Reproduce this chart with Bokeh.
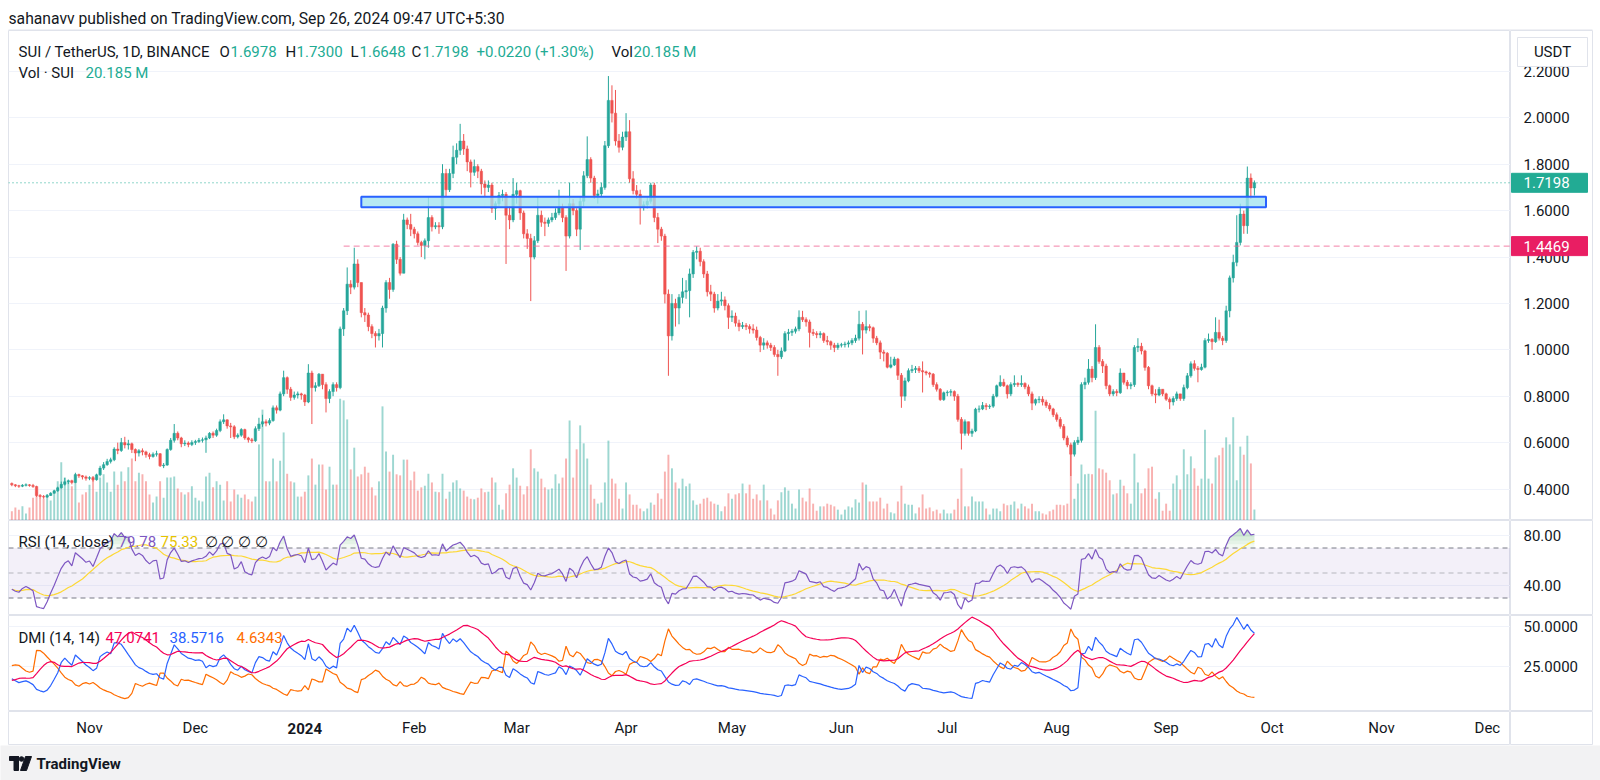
import numpy as np
import pandas as pd
from bokeh.plotting import figure
from bokeh.layouts import column, row
from bokeh.models import (ColumnDataSource, Range1d, FixedTicker, Grid,
                          Label, Span, BoxAnnotation)
from bokeh.core.properties import value
from bokeh.embed import file_html
from bokeh.resources import INLINE

# ---------------------------------------------------------------- data
START_DATE = "2023-10-10"
FIRST_OPEN = 0.424

close = [
    0.418, 0.414, 0.412, 0.416, 0.418, 0.415, 0.411, 0.372, 0.368, 0.365,
    0.372, 0.382, 0.392, 0.405, 0.420, 0.431, 0.436, 0.428, 0.462, 0.457,
    0.452, 0.446, 0.449, 0.440, 0.461, 0.490, 0.505, 0.519, 0.526, 0.572,
    0.566, 0.600, 0.590, 0.595, 0.570, 0.555, 0.565, 0.560, 0.548, 0.540,
    0.550, 0.552, 0.500, 0.503, 0.570, 0.610, 0.640, 0.620, 0.595, 0.598,
    0.592, 0.600, 0.605, 0.610, 0.612, 0.620, 0.640, 0.632, 0.652, 0.690,
    0.698, 0.672, 0.668, 0.625, 0.632, 0.656, 0.620, 0.612, 0.608, 0.660,
    0.680, 0.690, 0.684, 0.695, 0.750, 0.740, 0.810, 0.880, 0.830, 0.795,
    0.805, 0.810, 0.805, 0.775, 0.900, 0.837, 0.845, 0.895, 0.850, 0.790,
    0.820, 0.850, 0.837, 1.090, 1.168, 1.283, 1.270, 1.370, 1.290, 1.160,
    1.150, 1.100, 1.070, 1.060, 1.070, 1.180, 1.290, 1.260, 1.455, 1.390,
    1.330, 1.560, 1.540, 1.520, 1.500, 1.463, 1.450, 1.470, 1.570, 1.530,
    1.535, 1.530, 1.760, 1.690, 1.760, 1.830, 1.860, 1.900, 1.866, 1.810,
    1.765, 1.790, 1.770, 1.715, 1.700, 1.710, 1.610, 1.630, 1.665, 1.670,
    1.580, 1.560, 1.670, 1.686, 1.590, 1.500, 1.480, 1.400, 1.470, 1.580,
    1.550, 1.545, 1.560, 1.570, 1.590, 1.615, 1.570, 1.490, 1.630, 1.600,
    1.520, 1.640, 1.750, 1.820, 1.740, 1.665, 1.672, 1.700, 1.880, 2.075,
    2.020, 1.900, 1.873, 1.917, 1.940, 1.737, 1.686, 1.670, 1.615, 1.625,
    1.640, 1.710, 1.570, 1.520, 1.490, 1.240, 1.060, 1.200, 1.180, 1.226,
    1.250, 1.255, 1.327, 1.420, 1.425, 1.380, 1.327, 1.250, 1.240, 1.180,
    1.210, 1.215, 1.190, 1.140, 1.145, 1.115, 1.100, 1.105, 1.100, 1.090,
    1.085, 1.053, 1.020, 1.030, 1.020, 1.010, 0.980, 0.970, 0.995, 1.070,
    1.075, 1.080, 1.090, 1.140, 1.130, 1.120, 1.075, 1.070, 1.065, 1.070,
    1.040, 1.035, 1.020, 1.010, 1.020, 1.022, 1.025, 1.030, 1.040, 1.050,
    1.110, 1.085, 1.100, 1.095, 1.050, 1.030, 0.990, 0.985, 0.925, 0.935,
    0.960, 0.890, 0.800, 0.866, 0.910, 0.915, 0.920, 0.910, 0.905, 0.900,
    0.895, 0.850, 0.830, 0.785, 0.815, 0.817, 0.820, 0.800, 0.700, 0.640,
    0.690, 0.640, 0.650, 0.744, 0.745, 0.760, 0.755, 0.757, 0.800, 0.845,
    0.860, 0.845, 0.810, 0.850, 0.855, 0.850, 0.855, 0.840, 0.810, 0.770,
    0.785, 0.787, 0.775, 0.760, 0.745, 0.720, 0.700, 0.670, 0.620, 0.590,
    0.550, 0.600, 0.610, 0.850, 0.860, 0.917, 0.880, 1.010, 0.950, 0.930,
    0.845, 0.810, 0.820, 0.815, 0.900, 0.860, 0.845, 0.850, 1.010, 1.015,
    0.995, 0.924, 0.845, 0.810, 0.805, 0.830, 0.810, 0.787, 0.775, 0.790,
    0.810, 0.790, 0.837, 0.888, 0.940, 0.920, 0.915, 0.925, 1.040, 1.045,
    1.035, 1.075, 1.050, 1.040, 1.168, 1.310, 1.377, 1.463, 1.585, 1.535,
    1.740, 1.6978, 1.7198,
]

high = [
    0.428, 0.421, 0.418, 0.421, 0.424, 0.421, 0.422, 0.414, 0.378, 0.374,
    0.378, 0.386, 0.397, 0.410, 0.432, 0.448, 0.441, 0.440, 0.470, 0.466,
    0.460, 0.458, 0.455, 0.455, 0.466, 0.500, 0.516, 0.530, 0.535, 0.580,
    0.600, 0.620, 0.625, 0.612, 0.600, 0.575, 0.572, 0.575, 0.565, 0.556,
    0.558, 0.565, 0.555, 0.512, 0.575, 0.620, 0.680, 0.648, 0.625, 0.610,
    0.605, 0.610, 0.612, 0.620, 0.622, 0.630, 0.645, 0.648, 0.660, 0.700,
    0.722, 0.700, 0.685, 0.675, 0.640, 0.662, 0.660, 0.625, 0.620, 0.670,
    0.707, 0.720, 0.700, 0.705, 0.760, 0.760, 0.820, 0.910, 0.885, 0.840,
    0.820, 0.820, 0.815, 0.810, 0.938, 0.910, 0.860, 0.900, 0.895, 0.860,
    0.830, 0.860, 0.860, 1.100, 1.180, 1.355, 1.300, 1.440, 1.390, 1.290,
    1.180, 1.160, 1.110, 1.080, 1.090, 1.190, 1.300, 1.310, 1.460, 1.470,
    1.400, 1.586, 1.570, 1.586, 1.530, 1.510, 1.470, 1.480, 1.660, 1.580,
    1.550, 1.550, 1.800, 1.780, 1.780, 1.880, 1.890, 1.974, 1.930, 1.880,
    1.820, 1.820, 1.800, 1.780, 1.730, 1.730, 1.720, 1.640, 1.680, 1.690,
    1.680, 1.620, 1.740, 1.720, 1.690, 1.600, 1.520, 1.500, 1.490, 1.660,
    1.600, 1.570, 1.570, 1.590, 1.610, 1.690, 1.630, 1.580, 1.720, 1.650,
    1.610, 1.660, 1.770, 1.920, 1.830, 1.750, 1.690, 1.720, 1.900, 2.180,
    2.140, 2.120, 1.930, 1.940, 2.020, 1.990, 1.770, 1.710, 1.690, 1.640,
    1.660, 1.720, 1.720, 1.590, 1.530, 1.500, 1.260, 1.240, 1.220, 1.240,
    1.310, 1.300, 1.350, 1.430, 1.446, 1.440, 1.390, 1.340, 1.280, 1.250,
    1.240, 1.250, 1.230, 1.200, 1.170, 1.160, 1.130, 1.120, 1.115, 1.110,
    1.110, 1.100, 1.060, 1.050, 1.040, 1.030, 1.020, 1.000, 1.010, 1.080,
    1.090, 1.090, 1.100, 1.170, 1.168, 1.140, 1.130, 1.090, 1.080, 1.080,
    1.075, 1.060, 1.040, 1.030, 1.030, 1.030, 1.035, 1.040, 1.050, 1.065,
    1.168, 1.120, 1.170, 1.110, 1.100, 1.060, 1.040, 1.000, 0.990, 0.970,
    0.970, 0.965, 0.900, 0.880, 0.920, 0.935, 0.930, 0.930, 0.950, 0.910,
    0.905, 0.900, 0.860, 0.835, 0.820, 0.825, 0.830, 0.825, 0.810, 0.710,
    0.700, 0.690, 0.660, 0.750, 0.760, 0.775, 0.770, 0.765, 0.810, 0.850,
    0.890, 0.875, 0.850, 0.860, 0.890, 0.860, 0.890, 0.860, 0.850, 0.820,
    0.790, 0.800, 0.800, 0.785, 0.770, 0.750, 0.730, 0.710, 0.680, 0.630,
    0.600, 0.610, 0.625, 0.860, 0.880, 0.960, 0.930, 1.110, 1.020, 0.960,
    0.940, 0.850, 0.830, 0.830, 0.920, 0.900, 0.870, 0.860, 1.020, 1.050,
    1.030, 1.000, 0.930, 0.850, 0.830, 0.840, 0.830, 0.815, 0.795, 0.800,
    0.820, 0.810, 0.850, 0.900, 0.950, 0.955, 0.930, 0.940, 1.050, 1.070,
    1.050, 1.140, 1.130, 1.060, 1.190, 1.320, 1.410, 1.580, 1.630, 1.600,
    1.790, 1.760, 1.7300,
]

low = [
    0.412, 0.408, 0.405, 0.408, 0.411, 0.410, 0.405, 0.366, 0.360, 0.358,
    0.362, 0.370, 0.380, 0.388, 0.402, 0.415, 0.421, 0.420, 0.425, 0.448,
    0.441, 0.436, 0.438, 0.432, 0.436, 0.455, 0.482, 0.500, 0.510, 0.520,
    0.550, 0.560, 0.575, 0.570, 0.555, 0.520, 0.540, 0.545, 0.535, 0.528,
    0.535, 0.540, 0.495, 0.490, 0.500, 0.565, 0.600, 0.610, 0.580, 0.585,
    0.580, 0.585, 0.590, 0.598, 0.600, 0.556, 0.615, 0.620, 0.625, 0.645,
    0.680, 0.660, 0.620, 0.615, 0.618, 0.625, 0.612, 0.600, 0.598, 0.603,
    0.650, 0.668, 0.670, 0.675, 0.690, 0.725, 0.735, 0.800, 0.810, 0.780,
    0.785, 0.790, 0.785, 0.758, 0.770, 0.680, 0.820, 0.840, 0.830, 0.730,
    0.770, 0.800, 0.820, 0.830, 1.060, 1.150, 1.240, 1.260, 1.270, 1.140,
    1.120, 1.080, 1.050, 1.010, 1.040, 1.010, 1.160, 1.220, 1.250, 1.370,
    1.320, 1.330, 1.520, 1.490, 1.480, 1.450, 1.400, 1.390, 1.440, 1.510,
    1.520, 1.500, 1.520, 1.660, 1.680, 1.740, 1.800, 1.840, 1.840, 1.770,
    1.700, 1.750, 1.740, 1.670, 1.660, 1.680, 1.590, 1.560, 1.620, 1.640,
    1.370, 1.520, 1.550, 1.630, 1.560, 1.480, 1.435, 1.210, 1.390, 1.460,
    1.530, 1.490, 1.530, 1.550, 1.560, 1.580, 1.550, 1.340, 1.480, 1.580,
    1.490, 1.430, 1.620, 1.740, 1.720, 1.650, 1.630, 1.660, 1.690, 1.870,
    1.980, 1.880, 1.850, 1.860, 1.900, 1.720, 1.670, 1.650, 1.540, 1.600,
    1.610, 1.630, 1.550, 1.460, 1.470, 1.200, 0.888, 1.040, 1.100, 1.110,
    1.200, 1.220, 1.140, 1.310, 1.390, 1.360, 1.310, 1.230, 1.210, 1.160,
    1.170, 1.190, 1.170, 1.090, 1.120, 1.100, 1.080, 1.090, 1.085, 1.070,
    1.070, 1.040, 0.990, 1.000, 1.005, 0.995, 0.970, 0.888, 0.960, 0.990,
    1.040, 1.060, 1.070, 1.080, 1.120, 1.100, 1.010, 1.060, 1.050, 1.050,
    1.030, 1.020, 1.000, 0.990, 1.000, 1.010, 1.010, 1.010, 1.020, 1.030,
    1.040, 0.980, 1.070, 1.080, 1.030, 1.020, 0.960, 0.950, 0.920, 0.920,
    0.930, 0.870, 0.750, 0.780, 0.860, 0.900, 0.900, 0.900, 0.816, 0.890,
    0.880, 0.840, 0.820, 0.780, 0.780, 0.800, 0.800, 0.780, 0.690, 0.570,
    0.630, 0.630, 0.625, 0.645, 0.730, 0.740, 0.740, 0.745, 0.750, 0.795,
    0.840, 0.840, 0.790, 0.800, 0.840, 0.840, 0.840, 0.830, 0.800, 0.740,
    0.760, 0.770, 0.760, 0.750, 0.735, 0.710, 0.690, 0.660, 0.610, 0.580,
    0.456, 0.540, 0.590, 0.600, 0.830, 0.850, 0.860, 0.870, 0.940, 0.900,
    0.830, 0.800, 0.800, 0.800, 0.810, 0.850, 0.830, 0.830, 0.840, 0.990,
    0.980, 0.910, 0.830, 0.800, 0.770, 0.800, 0.800, 0.780, 0.744, 0.760,
    0.780, 0.780, 0.780, 0.830, 0.880, 0.910, 0.860, 0.910, 0.920, 1.030,
    1.000, 1.030, 1.040, 1.020, 1.030, 1.140, 1.290, 1.360, 1.450, 1.500,
    1.500, 1.650, 1.6648,
]

volume_m = [
    17, 24, 20, 26, 13, 24, 42, 53, 42, 40,
    48, 37, 55, 72, 107, 79, 72, 63, 70, 33,
    48, 52, 66, 81, 53, 79, 85, 70, 53, 90,
    66, 90, 72, 98, 114, 72, 88, 85, 72, 48,
    33, 44, 72, 42, 79, 79, 81, 59, 52, 48,
    52, 63, 42, 37, 35, 81, 88, 61, 72, 66,
    37, 72, 35, 57, 48, 42, 48, 39, 35, 44,
    140, 204, 72, 72, 114, 72, 110, 162, 86, 72,
    70, 44, 44, 53, 83, 114, 66, 103, 103, 57,
    99, 66, 66, 224, 221, 186, 94, 134, 81, 85,
    99, 88, 61, 46, 72, 210, 127, 90, 121, 85,
    83, 112, 112, 74, 90, 55, 61, 64, 86, 70,
    53, 52, 86, 40, 53, 70, 74, 59, 55, 44,
    40, 39, 42, 59, 52, 53, 79, 70, 29, 20,
    50, 66, 96, 79, 64, 48, 63, 131, 96, 90,
    77, 61, 57, 59, 85, 68, 79, 114, 184, 79,
    131, 175, 142, 114, 66, 40, 31, 33, 70, 147,
    77, 68, 40, 22, 70, 48, 29, 29, 22, 17,
    22, 33, 29, 50, 40, 90, 121, 96, 70, 59,
    77, 63, 68, 37, 29, 31, 40, 42, 35, 31,
    29, 17, 26, 50, 40, 48, 50, 68, 50, 66,
    40, 48, 37, 66, 37, 22, 11, 37, 52, 61,
    55, 31, 22, 57, 42, 35, 59, 31, 18, 26,
    26, 31, 29, 26, 20, 11, 20, 26, 24, 39,
    33, 70, 66, 35, 35, 35, 42, 22, 31, 15,
    13, 35, 64, 31, 29, 29, 13, 24, 48, 22,
    24, 17, 20, 13, 20, 13, 13, 20, 40, 96,
    26, 26, 44, 35, 35, 35, 22, 11, 22, 22,
    17, 31, 28, 29, 35, 22, 31, 26, 22, 31,
    17, 17, 13, 11, 17, 20, 29, 29, 28, 31,
    136, 40, 68, 103, 85, 86, 85, 202, 96, 94,
    88, 74, 48, 50, 75, 64, 50, 31, 123, 70,
    50, 59, 96, 99, 40, 52, 18, 31, 18, 68,
    83, 57, 131, 85, 118, 96, 64, 77, 167, 77,
    68, 116, 120, 134, 153, 140, 190, 74, 136, 121,
    156, 105, 20.185,
]

# indicator readings at the chart's left edge (used to seed the smoothing)
RSI_LEFT = 37.0
PDI_LEFT, MDI_LEFT, ADX_LEFT = 17.3, 25.6, 16.3

# drawn levels
LAST_PRICE = 1.7198
RED_LEVEL = 1.4469
ZONE_BOTTOM, ZONE_TOP = 1.614, 1.660
ZONE_FROM, ZONE_TO = "2024-01-17", "2024-09-29 07:00"
RED_FROM = "2024-01-12"

price_ticks = [0.4, 0.6, 0.8, 1.0, 1.2, 1.4, 1.6, 1.8, 2.0, 2.2]
rsi_ticks = [40, 80]
dmi_ticks = [25, 50]
month_dates = ["2023-11-01", "2023-12-01", "2024-01-01", "2024-02-01", "2024-03-01",
               "2024-04-01", "2024-05-01", "2024-06-01", "2024-07-01", "2024-08-01",
               "2024-09-01", "2024-10-01", "2024-11-01", "2024-12-01"]
month_labels = ["Nov", "Dec", "2024", "Feb", "Mar", "Apr", "May", "Jun", "Jul",
                "Aug", "Sep", "Oct", "Nov", "Dec"]

HEADER = "sahanavv published on TradingView.com, Sep 26, 2024 09:47 UTC+5:30"

# ---------------------------------------------------------------- geometry (page pixels)
FONT = "Roboto"
FS = "15px"
DARK = "#131722"
TEAL = "#22ab94"
UP, DOWN = "#26a69a", "#ef5350"
BORDER = "#e0e3eb"
GRID = "#f0f3fa"
CHART_W = 1510          # page x 0..1510 (frame 8..1510)
AX_W = 90               # page x 1510..1600 (frame 1510..1592)
ORIGIN = pd.Timestamp("2023-11-01")
ORIGIN_PX, PX_PER_DAY = 89.0, 3.53

def day_at(px):
    return (px - ORIGIN_PX) / PX_PER_DAY

def dnum(s):
    return (pd.Timestamp(s) - ORIGIN) / pd.Timedelta(days=1)

P_TOP, P_SCALE = 2.3763, 232.0          # price pane: page y 30..520
def price_at(py):
    return P_TOP - (py - 30) / P_SCALE
R_TOP, R_SCALE = 92.0, 1.25             # rsi pane: page y 520..615
def rsi_at(py):
    return R_TOP - (py - 520) / R_SCALE
D_TOP, D_SCALE = 56.875, 1.6            # dmi pane: page y 615..711
def dmi_at(py):
    return D_TOP - (py - 615) / D_SCALE

# ---------------------------------------------------------------- series
n = min(len(close), len(high), len(low), len(volume_m))
c = np.array(close[:n], dtype=float)
o = np.r_[FIRST_OPEN, c[:-1]]
h = np.maximum(np.array(high[:n], dtype=float), np.maximum(o, c))
l = np.minimum(np.array(low[:n], dtype=float), np.minimum(o, c))
v = np.array(volume_m[:n], dtype=float)
dates = pd.date_range(START_DATE, periods=n, freq="D")
x = np.asarray((dates - ORIGIN) / pd.Timedelta(days=1), dtype=float)
col = np.where(c >= o, UP, DOWN)


def rma(vals, start):
    out = np.empty(len(vals))
    s = start
    for i, val in enumerate(vals):
        s = s + (val - s) / 14.0
        out[i] = s
    return out

# RSI(14) + SMA(14)
delta = np.diff(c)
g0 = 0.0025
ag = rma(np.maximum(delta, 0), g0)
al = rma(np.maximum(-delta, 0), g0 * (100 - RSI_LEFT) / RSI_LEFT)
rsi = np.r_[RSI_LEFT, 100 - 100 / (1 + ag / al)]
rsi_ma = pd.Series(rsi).rolling(14, min_periods=1).mean().values

# DMI(14,14)
upm = h[1:] - h[:-1]
dnm = l[:-1] - l[1:]
pdm = np.where((upm > dnm) & (upm > 0), upm, 0.0)
mdm = np.where((dnm > upm) & (dnm > 0), dnm, 0.0)
tr = np.maximum.reduce([h[1:] - l[1:], np.abs(h[1:] - c[:-1]), np.abs(l[1:] - c[:-1])])
ATR0 = 0.013
atr = rma(tr, ATR0)
pdi = np.r_[PDI_LEFT, 100 * rma(pdm, ATR0 * PDI_LEFT / 100) / atr]
mdi = np.r_[MDI_LEFT, 100 * rma(mdm, ATR0 * MDI_LEFT / 100) / atr]
dx = 100 * np.abs(pdi - mdi) / (pdi + mdi)
adx = np.r_[ADX_LEFT, rma(dx[1:], ADX_LEFT)]

src = ColumnDataSource(dict(x=x, o=o, h=h, l=l, c=c, v=v, col=col,
                            top=np.maximum(o, c), bot=np.minimum(o, c),
                            rsi=rsi, rsi_ma=rsi_ma,
                            adx=adx, pdi=pdi, mdi=mdi))
# stepped overbought fill (fades toward the 70 level)
OB_STEPS = [70, 73, 76, 79, 82, 85]
for t in OB_STEPS:
    src.data[f"ob{t}"] = np.maximum(rsi, t)

xr = Range1d(day_at(8), day_at(1510))


def chart(height, y_range, ticks=None):
    f = figure(width=CHART_W, height=height, x_range=xr, y_range=y_range,
               x_axis_location=None, y_axis_location=None, toolbar_location=None,
               output_backend="svg", min_border_left=8, min_border_right=0,
               min_border_top=0, min_border_bottom=0)
    f.outline_line_color = BORDER
    f.background_fill_color = "white"
    f.border_fill_color = "white"
    f.grid.visible = False
    if ticks:
        f.add_layout(Grid(dimension=1, ticker=FixedTicker(ticks=ticks),
                          grid_line_color=GRID, grid_line_width=1))
    return f


def scale_col(height, y_range, ticks=None, fmt=None):
    a = figure(width=AX_W, height=height, x_range=Range1d(0, 82), y_range=y_range,
               x_axis_location=None, y_axis_location=None, toolbar_location=None,
               output_backend="svg", min_border_left=0, min_border_right=8,
               min_border_top=0, min_border_bottom=0)
    a.outline_line_color = BORDER
    a.background_fill_color = "white"
    a.border_fill_color = "white"
    a.grid.visible = False
    if ticks:
        a.text(x=[13] * len(ticks), y=ticks, text=[fmt % t for t in ticks],
               text_font=value(FONT), text_font_size=FS, text_color=DARK,
               text_baseline="middle", text_align="left")
    return a


def lab(f, px, y, text, color=DARK, size=FS, bold=False):
    f.add_layout(Label(x=day_at(px), y=y, text=text, text_color=color, text_font=FONT,
                       text_font_size=size, text_align="left", text_baseline="middle",
                       text_font_style="bold" if bold else "normal"))

# ---------------------------------------------------------------- header (page y 0..30)
head = figure(width=1600, height=30, x_range=(0, 1600), y_range=(0, 30),
              x_axis_location=None, y_axis_location=None, toolbar_location=None,
              output_backend="svg", min_border=0)
head.outline_line_color = None
head.grid.visible = False
head.text(x=[8], y=[12], text=[HEADER], text_font=value(FONT), text_font_size="15.7px",
          text_color=DARK, text_baseline="middle")
head.segment(x0=[8], y0=[0.5], x1=[1592], y1=[0.5], line_color=BORDER, line_width=1)

# ---------------------------------------------------------------- price pane
p_range = Range1d(P_TOP - 490 / P_SCALE, P_TOP)
pp = chart(490, p_range, price_ticks)
pp.extra_y_ranges = {"vol": Range1d(0, 490 * 1.84)}
pp.vbar(x="x", width=0.55, top="v", bottom=0, source=src, y_range_name="vol",
        fill_color="col", line_color=None, fill_alpha=0.45)
pp.segment(x0="x", y0="l", x1="x", y1="h", source=src, line_color="col", line_width=1)
pp.vbar(x="x", width=0.7, top="top", bottom="bot", source=src,
        fill_color="col", line_color="col", line_width=0.5)
pp.quad(left=[dnum(ZONE_FROM)], right=[dnum(ZONE_TO)], bottom=[ZONE_BOTTOM], top=[ZONE_TOP],
        fill_color="#a5e4f0", fill_alpha=0.8, line_color="#2962ff", line_width=2)
pp.segment(x0=[dnum(RED_FROM)], y0=[RED_LEVEL], x1=[day_at(1512)], y1=[RED_LEVEL],
           line_color="#f06292", line_width=1, line_dash="6 4", line_alpha=0.8)
pp.add_layout(Span(location=LAST_PRICE, dimension="width", line_color=TEAL,
                   line_dash="1 3", line_width=1))

ly1, ly2 = price_at(51), price_at(72)
lab(pp, 18, ly1, "SUI / TetherUS, 1D, BINANCE")
for px, k, val_px, val in [(219, "O", 230, "1.6978"), (285, "H", 296, "1.7300"),
                           (350, "L", 359, "1.6648"), (411, "C", 422, "1.7198")]:
    lab(pp, px, ly1, k)
    lab(pp, val_px, ly1, val, color=TEAL)
lab(pp, 476, ly1, "+0.0220 (+1.30%)", color=TEAL)
lab(pp, 611, ly1, "Vol")
lab(pp, 633, ly1, "20.185 M", color=TEAL)
lab(pp, 18, ly2, "Vol · SUI")
lab(pp, 85, ly2, "20.185 M", color=TEAL)

pa = scale_col(490, p_range, price_ticks, "%.4f")
pa.quad(left=[7], right=[77], top=[price_at(37)], bottom=[price_at(66)],
        fill_color="white", line_color=BORDER, line_width=1)
pa.text(x=[42], y=[price_at(51.5)], text=["USDT"], text_font=value(FONT), text_font_size=FS,
        text_color=DARK, text_align="center", text_baseline="middle")
for val, bg in [(LAST_PRICE, TEAL), (RED_LEVEL, "#e91e63")]:
    pa.quad(left=[1], right=[77], top=[val + 9.5 / P_SCALE], bottom=[val - 9.5 / P_SCALE],
            fill_color=bg, line_color=bg)
    pa.text(x=[13], y=[val], text=[f"{val:.4f}"], text_font=value(FONT), text_font_size=FS,
            text_color="white", text_baseline="middle")

# ---------------------------------------------------------------- RSI pane
r_range = Range1d(rsi_at(615), R_TOP)
rp = chart(95, r_range, rsi_ticks)
rp.add_layout(BoxAnnotation(bottom=30, top=70, fill_color="#7e57c2", fill_alpha=0.09,
                            line_color=None, level="underlay"))
for lvl, a in [(70, 1.0), (50, 0.5), (30, 1.0)]:
    rp.add_layout(Span(location=lvl, dimension="width", line_color="#787b86",
                       line_dash="5 4", line_alpha=a, line_width=1, level="underlay"))
for t in OB_STEPS:
    rp.varea(x="x", y1=t, y2=f"ob{t}", source=src, fill_color="#4caf50", fill_alpha=0.07)
rp.line(x="x", y="rsi_ma", source=src, line_color="#fdd835", line_width=1.2)
rp.line(x="x", y="rsi", source=src, line_color="#7e57c2", line_width=1.2)
ry = rsi_at(541)
lab(rp, 18, ry, "RSI (14, close)")
lab(rp, 118, ry, "79.78", color="#7e57c2")
lab(rp, 160, ry, "75.33", color="#e6c300")
lab(rp, 204, ry, "∅  ∅  ∅  ∅", color=DARK)
ra = scale_col(95, r_range, rsi_ticks, "%.2f")

# ---------------------------------------------------------------- DMI pane
d_range = Range1d(dmi_at(711), D_TOP)
dp = chart(96, d_range, dmi_ticks)
dp.line(x="x", y="mdi", source=src, line_color="#ff6d00", line_width=1.2)
dp.line(x="x", y="pdi", source=src, line_color="#2962ff", line_width=1.2)
dp.line(x="x", y="adx", source=src, line_color="#f50057", line_width=1.2)
dy = dmi_at(637)
lab(dp, 18, dy, "DMI (14, 14)")
lab(dp, 105, dy, "47.0741", color="#f50057")
lab(dp, 169, dy, "38.5716", color="#2962ff")
lab(dp, 236, dy, "4.6343", color="#ff6d00")
da = scale_col(96, d_range, dmi_ticks, "%.4f")

# ---------------------------------------------------------------- time scale (page y 711..745)
t_range = Range1d(0, 34)
tp = chart(34, t_range)
tick_x = [dnum(s) for s in month_dates]
reg = [(t, s) for t, s in zip(tick_x, month_labels) if s != "2024"]
yr = [(t, s) for t, s in zip(tick_x, month_labels) if s == "2024"]
tp.text(x=[t for t, _ in reg], y=[17.5] * len(reg), text=[s for _, s in reg],
        text_font=value(FONT), text_font_size=FS, text_color=DARK,
        text_align="center", text_baseline="middle")
tp.text(x=[t for t, _ in yr], y=[17.5] * len(yr), text=[s for _, s in yr],
        text_font=value(FONT), text_font_size=FS, text_font_style="bold", text_color=DARK,
        text_align="center", text_baseline="middle")
ta = scale_col(34, t_range)

# ---------------------------------------------------------------- footer (page y 745..780)
foot = figure(width=1600, height=35, x_range=(0, 1600), y_range=(0, 35),
              x_axis_location=None, y_axis_location=None, toolbar_location=None,
              output_backend="svg", min_border=0)
foot.outline_line_color = None
foot.grid.visible = False
foot.background_fill_color = "#f2f2f3"
foot.border_fill_color = "#f2f2f3"
foot.quad(left=[9, 13.5], right=[18, 18], top=[24, 24], bottom=[20, 10], color=DARK)
foot.scatter(x=[21], y=[21.5], size=4.6, color=DARK)
foot.patch(x=[25, 31, 26, 20], y=[24, 24, 10, 10], color=DARK)
foot.text(x=[36], y=[17], text=["TradingView"], text_font=value(FONT), text_font_size="15px",
          text_font_style="bold", text_color=DARK, text_baseline="middle")

layout = column(head,
                row(pp, pa, spacing=0),
                row(rp, ra, spacing=0),
                row(dp, da, spacing=0),
                row(tp, ta, spacing=0),
                foot, spacing=0)
open("out.html", "w").write(file_html(layout, INLINE))
